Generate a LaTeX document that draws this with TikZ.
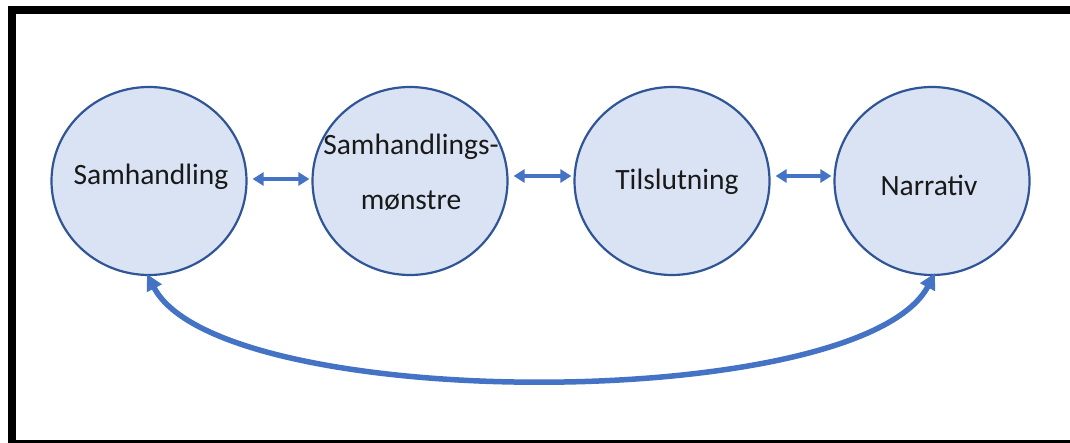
\documentclass[tikz,border=0pt]{standalone}
\usepackage{fontspec}
\setmainfont{Carlito}
\usetikzlibrary{shapes.geometric,arrows.meta}
\definecolor{cfill}{HTML}{DAE3F3}
\definecolor{cline}{HTML}{2F5597}
\definecolor{carrow}{HTML}{4472C4}
\tikzset{
  circ/.style={ellipse, draw=cline, line width=2.2pt, fill=cfill, minimum width=195pt, minimum height=188pt, inner sep=0pt},
  lbl/.style={font=\fontsize{29.5}{31}\selectfont, text=black!90, inner sep=0pt, anchor=base},
  link/.style={draw=carrow, line width=3.6pt, {Triangle[length=11pt,width=13pt]}-{Triangle[length=11pt,width=13pt]}, shorten >=1pt, shorten <=1pt},
  biglink/.style={draw=carrow, line width=5.5pt, {Triangle[length=16pt,width=16pt]}-{Triangle[length=16pt,width=16pt]}}
}
\begin{document}
\begin{tikzpicture}[x=1pt,y=-1pt]
\useasboundingbox (0,0) rectangle (1070,443);
\fill[white] (0,0) rectangle (1070,443);
% frame
\draw[line width=8pt, black] (12,10) rectangle (1080,444);
% circles
\node[circ] (c1) at (149,181) {};
\node[circ] (c2) at (410,181) {};
\node[circ] (c3) at (672,181) {};
\node[circ] (c4) at (932,181) {};
% labels
\node[lbl] (t1) at (151,185) {Samhandling};
\node[lbl] (t2a) at (411,155) {Samhandlings-};
\node[lbl] (t2b) at (411,210) {mønstre};
\node[lbl] (t3) at (677,190) {Tilslutning};
\node[lbl] (t4) at (929,196) {Narrativ};
% connectors
\draw[link] ([xshift=4pt,yshift=2pt]c1.east) -- ([xshift=-1pt,yshift=2pt]c2.west);
\draw[link] ([xshift=4pt,yshift=5pt]c2.east) -- ([xshift=-1pt,yshift=5pt]c3.west);
\draw[link] ([xshift=4pt,yshift=5pt]c3.east) -- ([xshift=-1pt,yshift=5pt]c4.west);
\draw[biglink] ([xshift=-2pt,yshift=2pt]c1.south) .. controls (220,414) and (860,414) .. ([xshift=3pt,yshift=3pt]c4.south);
\end{tikzpicture}
\end{document}
